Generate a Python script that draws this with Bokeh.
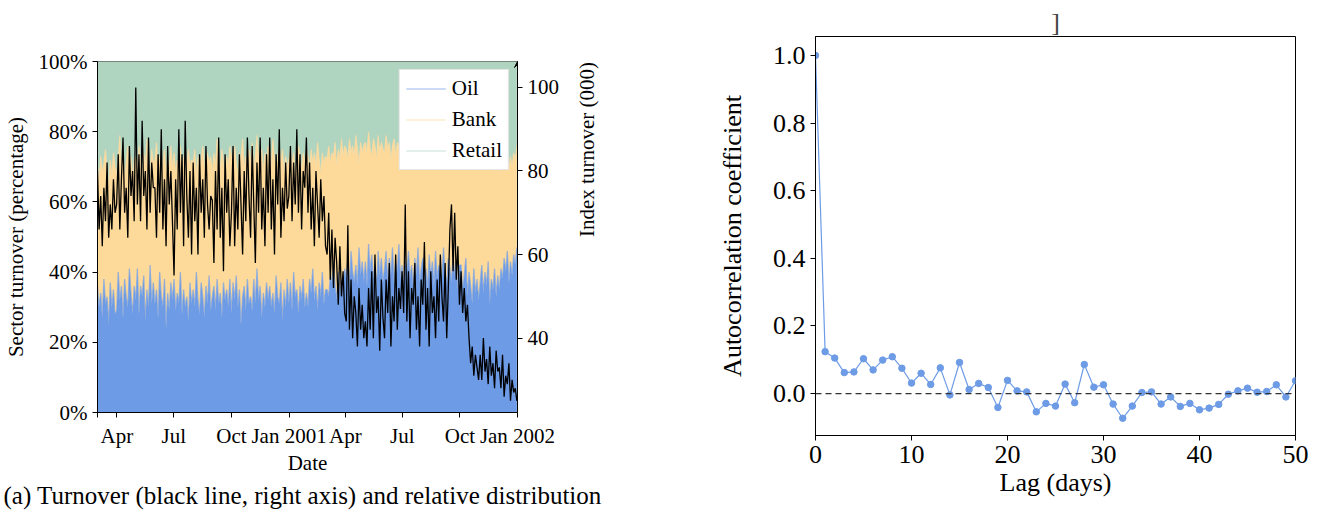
import numpy as np
import pandas as pd
from bokeh.plotting import figure
from bokeh.models import (Range1d, LinearAxis, FixedTicker, Legend, LegendItem,
                          Arrow, VeeHead, Span, Title, PrintfTickFormatter)
from bokeh.layouts import row, column
from bokeh.embed import file_html
from bokeh.resources import INLINE

FONT = "Liberation Serif"
OIL_C = "#6d9be6"
BANK_C = "#fdd99a"
RETAIL_C = "#afd4c0"

# ---------------- data: left panel (sampled ~12 points per month, Mar 2000 - Dec 2001)
start_date = "2000-03-01"
last_date = "2001-12-31"
index_turnover = [
    80, 66, 74, 62, 76, 68, 82, 64, 72, 66, 78, 70,
    72, 84, 66, 78, 88, 70, 76, 64, 86, 74, 80, 68,
    100, 72, 84, 68, 92, 74, 80, 66, 88, 70, 82, 76,
    76, 64, 84, 70, 90, 66, 78, 62, 86, 72, 80, 68,
    55, 78, 66, 90, 70, 84, 62, 92, 74, 64, 80, 60,
    82, 68, 76, 60, 84, 70, 78, 64, 86, 72, 66, 74,
    73, 58, 80, 66, 88, 64, 76, 56, 84, 70, 78, 62,
    70, 86, 62, 76, 66, 84, 72, 60, 80, 68, 88, 74,
    64, 86, 72, 58, 82, 70, 88, 66, 76, 62, 84, 70,
    88, 66, 78, 60, 84, 72, 90, 64, 76, 68, 82, 71,
    74, 86, 68, 82, 72, 90, 70, 84, 66, 80, 76, 88,
    70, 82, 66, 76, 62, 80, 72, 64, 78, 68, 74, 62,
    60, 70, 54, 66, 52, 64, 58, 48, 62, 50, 56, 46,
    44, 67, 42, 54, 40, 50, 46, 38, 52, 42, 48, 40,
    44, 38, 52, 42, 56, 40, 60, 46, 50, 37, 54, 45,
    40, 54, 46, 58, 38, 50, 44, 60, 42, 52, 47, 56,
    46, 72, 44, 56, 40, 52, 48, 58, 42, 50, 38, 54,
    48, 63, 42, 52, 38, 56, 46, 50, 40, 54, 44, 60,
    50, 44, 58, 40, 52, 66, 72, 56, 70, 54, 62, 48,
    56, 46, 52, 44, 48, 40, 34, 38, 31, 36, 33, 30,
    36, 30, 40, 32, 35, 29, 38, 31, 34, 28, 37, 32,
    33, 28, 36, 26, 31, 29, 34, 25, 30, 27, 28, 25,
]
oil_pct = [
    36, 30, 34, 27, 38, 31, 33, 25, 37, 30, 35, 28,
    29, 40, 32, 36, 27, 38, 33, 30, 41, 34, 28, 36,
    32, 41, 28, 36, 33, 39, 26, 35, 30, 42, 31, 37,
    31, 35, 27, 40, 33, 30, 38, 24, 34, 29, 37, 32,
    38, 29, 34, 31, 40, 28, 35, 30, 33, 26, 37, 31,
    35, 30, 40, 32, 28, 37, 33, 27, 36, 31, 39, 29,
    33, 36, 29, 38, 31, 34, 27, 37, 32, 35, 30, 38,
    28, 37, 32, 39, 30, 35, 25, 33, 36, 29, 38, 31,
    33, 29, 38, 31, 41, 32, 36, 27, 34, 30, 37, 32,
    36, 30, 34, 28, 39, 33, 31, 37, 26, 35, 30, 38,
    31, 37, 29, 40, 33, 35, 28, 36, 32, 38, 30, 34,
    30, 38, 34, 41, 32, 36, 29, 37, 33, 40, 31, 35,
    35, 33, 39, 37, 43, 36, 32, 40, 34, 38, 36, 41,
    38, 44, 35, 46, 40, 37, 42, 36, 47, 39, 43, 37,
    43, 36, 48, 40, 45, 38, 42, 35, 46, 39, 44, 37,
    41, 46, 37, 44, 39, 47, 36, 43, 40, 48, 38, 42,
    36, 43, 40, 46, 38, 42, 35, 44, 39, 47, 37, 41,
    44, 37, 41, 35, 45, 39, 43, 36, 46, 38, 42, 40,
    38, 47, 40, 36, 44, 41, 37, 45, 39, 43, 35, 42,
    42, 35, 39, 44, 33, 40, 36, 31, 41, 34, 38, 32,
    37, 42, 34, 40, 36, 43, 31, 38, 35, 41, 33, 39,
    35, 41, 38, 44, 40, 46, 37, 43, 39, 45, 42, 47,
]
# upper edge of the Bank band (Oil + Bank), percent
oil_plus_bank_pct = [
    70, 66, 73, 68, 71, 75, 69, 64, 72, 67, 74, 70,
    68, 72, 79, 70, 74, 67, 71, 76, 69, 73, 66, 72,
    73, 69, 76, 71, 67, 74, 70, 78, 72, 68, 75, 71,
    72, 77, 69, 73, 66, 71, 75, 68, 72, 70, 76, 69,
    74, 68, 72, 70, 76, 69, 73, 67, 71, 75, 70, 72,
    71, 75, 67, 73, 69, 72, 76, 70, 68, 74, 71, 73,
    68, 74, 70, 78, 72, 69, 75, 71, 67, 73, 70, 76,
    73, 70, 76, 71, 67, 74, 72, 78, 69, 73, 70, 75,
    71, 77, 69, 73, 79, 72, 70, 75, 68, 74, 71, 76,
    74, 70, 78, 72, 69, 73, 76, 71, 75, 68, 73, 70,
    72, 75, 70, 74, 68, 71, 76, 73, 69, 74, 71, 75,
    73, 69, 75, 71, 74, 70, 77, 72, 68, 74, 71, 73,
    72, 76, 71, 74, 73, 77, 70, 75, 72, 78, 73, 76,
    75, 72, 78, 74, 76, 73, 79, 75, 71, 77, 74, 76,
    77, 74, 80, 75, 73, 78, 76, 72, 79, 74, 77, 75,
    74, 79, 75, 77, 72, 76, 78, 73, 77, 75, 80, 74,
    78, 73, 76, 74, 79, 75, 72, 77, 74, 78, 73, 76,
    73, 77, 74, 72, 76, 74, 78, 73, 75, 71, 77, 74,
    76, 72, 75, 78, 73, 74, 71, 77, 74, 76, 72, 75,
    72, 75, 70, 74, 71, 73, 76, 72, 69, 74, 71, 75,
    74, 70, 73, 71, 69, 72, 75, 70, 73, 68, 72, 71,
    71, 68, 73, 70, 72, 75, 69, 73, 70, 74, 72, 76,
]
tick_dates = ["2000-03-01", "2000-04-01", "2000-07-01", "2000-10-01", "2001-01-01",
              "2001-04-01", "2001-07-01", "2001-10-01", "2002-01-01"]
tick_labels = ["", "Apr", "Jul", "Oct", "Jan 2001", "Apr", "Jul", "Oct", "Jan 2002"]
pct_ticks = [0, 20, 40, 60, 80, 100]
index_ticks = [40, 60, 80, 100]

# ---------------- data: right panel
lags = list(range(51))
acf = [1.0, 0.124, 0.105, 0.062, 0.064, 0.103, 0.070, 0.099, 0.109, 0.075,
       0.031, 0.060, 0.027, 0.076, -0.004, 0.092, 0.012, 0.030, 0.018, -0.041,
       0.039, 0.008, 0.005, -0.054, -0.029, -0.037, 0.028, -0.027, 0.086, 0.019,
       0.026, -0.031, -0.073, -0.037, 0.003, 0.005, -0.031, -0.010, -0.038, -0.029,
       -0.048, -0.043, -0.032, -0.002, 0.008, 0.016, 0.004, 0.006, 0.026, -0.010,
       0.038]
acf_ticks = [0.0, 0.2, 0.4, 0.6, 0.8, 1.0]
lag_ticks = [0, 10, 20, 30, 40, 50]

# ---------------- derived
t0 = pd.Timestamp(start_date)
last_day = (pd.Timestamp(last_date) - t0).days
x_idx = np.linspace(0, last_day, len(index_turnover))
n_area = min(len(oil_pct), len(oil_plus_bank_pct))
x_area = np.linspace(0, last_day, n_area)
oil = np.array(oil_pct[:n_area], dtype=float)
top = np.array(oil_plus_bank_pct[:n_area], dtype=float)
full = np.full(n_area, 100.0)
tick_days = [(pd.Timestamp(d) - t0).days for d in tick_dates]
x_end = tick_days[-1]


def style_axis(ax, size):
    ax.axis_label_text_font = FONT
    ax.axis_label_text_font_style = "normal"
    ax.axis_label_text_font_size = size
    ax.axis_label_text_color = "black"
    ax.major_label_text_font = FONT
    ax.major_label_text_font_size = size
    ax.major_label_text_color = "black"
    ax.major_tick_out = 5
    ax.major_tick_in = 0
    ax.minor_tick_line_color = None
    ax.axis_line_color = "black"
    ax.major_tick_line_color = "black"


LF = "21px"
# ---------------- left figure
p1 = figure(width=660, height=510, output_backend="svg", toolbar_location=None,
            x_range=Range1d(0, x_end), y_range=Range1d(0, 100),
            min_border_left=95, min_border_right=143, min_border_top=61,
            min_border_bottom=98)
p1.extra_y_ranges = {"idx": Range1d(22.2, 106.2)}
p1.xgrid.visible = False
p1.ygrid.visible = False
p1.outline_line_color = "#333333"

p1.varea(x=x_area, y1=0, y2=oil, fill_color=OIL_C)
p1.varea(x=x_area, y1=oil, y2=top, fill_color=BANK_C)
p1.varea(x=x_area, y1=top, y2=100, fill_color=RETAIL_C)
r_oil = p1.line(x=x_area, y=oil, line_color=OIL_C, line_alpha=0.7, line_width=1.2)
r_bank = p1.line(x=x_area, y=top, line_color=BANK_C, line_alpha=0.7, line_width=1.2)
r_ret = p1.line(x=x_area, y=full, line_color=RETAIL_C, line_alpha=0.7, line_width=1.2)
p1.line(x=x_idx, y=index_turnover, y_range_name="idx", line_color="black", line_width=1.3)

legend = Legend(items=[LegendItem(label="Oil", renderers=[r_oil]),
                       LegendItem(label="Bank", renderers=[r_bank]),
                       LegendItem(label="Retail", renderers=[r_ret])],
                location="top_right")
legend.margin = 8
legend.padding = 6
legend.spacing = 6
legend.glyph_width = 40
legend.glyph_height = 21
legend.label_height = 21
legend.label_standoff = 6
legend.label_text_font = FONT
legend.label_text_font_size = LF
legend.label_text_color = "black"
legend.border_line_color = "#cccccc"
legend.background_fill_alpha = 1.0
p1.add_layout(legend)

xa = p1.xaxis[0]
xa.ticker = FixedTicker(ticks=tick_days)
xa.major_label_overrides = {d: l for d, l in zip(tick_days, tick_labels)}
xa.axis_label = "Date"
style_axis(xa, LF)
xa.major_label_standoff = 6
xa.axis_label_standoff = 0

ya = p1.yaxis[0]
ya.ticker = FixedTicker(ticks=pct_ticks)
ya.major_label_overrides = {v: f"{v}%" for v in pct_ticks}
ya.axis_label = "Sector turnover (percentage)"
style_axis(ya, LF)
ya.axis_label_standoff = 8

ra = LinearAxis(y_range_name="idx", ticker=FixedTicker(ticks=index_ticks))
style_axis(ra, LF)
if "axis_label_orientation" in ra.properties():
    ra.axis_label = "Index turnover (000)"
    ra.axis_label_orientation = np.pi / 2
    ra.axis_label_standoff = 25
    p1.add_layout(ra, "right")
else:
    p1.add_layout(ra, "right")
    p1.add_layout(Title(text="Index turnover (000)", align="center", text_font=FONT,
                        text_font_size=LF, text_font_style="normal",
                        text_color="black"), "right")
p1.add_layout(Arrow(end=VeeHead(size=6, line_color="black", fill_color="black",
                                line_width=1),
                    x_start=x_end, y_start=100, x_end=x_end, y_end=106.2,
                    y_range_name="idx", line_color="black", line_width=1))

cap = Title(text="(a) Turnover (black line, right axis) and relative distribution",
            align="left", text_font=FONT, text_font_size="25px",
            text_font_style="normal", text_color="black", standoff=4, offset=-94)
p1.add_layout(cap, "below")

RF = "26px"
# ---------------- right figure
p2 = figure(width=660, height=510, output_backend="svg", toolbar_location=None,
            x_range=Range1d(0, 50), y_range=Range1d(-0.124, 1.056),
            min_border_left=155, min_border_right=25, min_border_top=36,
            min_border_bottom=75)
p2.xgrid.visible = False
p2.ygrid.visible = False
p2.outline_line_color = "black"
p2.add_layout(Span(location=0, dimension="width", line_color="#333333",
                   line_dash="6 4", line_width=1.3))
p2.line(x=lags, y=acf, line_color=OIL_C, line_width=1.2)
p2.scatter(x=lags, y=acf, size=6.5, fill_color=OIL_C, line_color=OIL_C)

p2.title.text = "]"
p2.title.align = "center"
p2.title.text_font = FONT
p2.title.text_font_style = "normal"
p2.title.text_font_size = RF
p2.title.standoff = 0

xb = p2.xaxis[0]
xb.ticker = FixedTicker(ticks=lag_ticks)
xb.axis_label = "Lag (days)"
style_axis(xb, RF)
xb.axis_label_standoff = 2
yb = p2.yaxis[0]
yb.ticker = FixedTicker(ticks=acf_ticks)
yb.formatter = PrintfTickFormatter(format="%.1f")
yb.axis_label = "Autocorrelation coefficient"
style_axis(yb, RF)
yb.axis_label_standoff = 23

layout = row(column(p1), column(p2))
open("out.html", "w").write(file_html(layout, INLINE))
